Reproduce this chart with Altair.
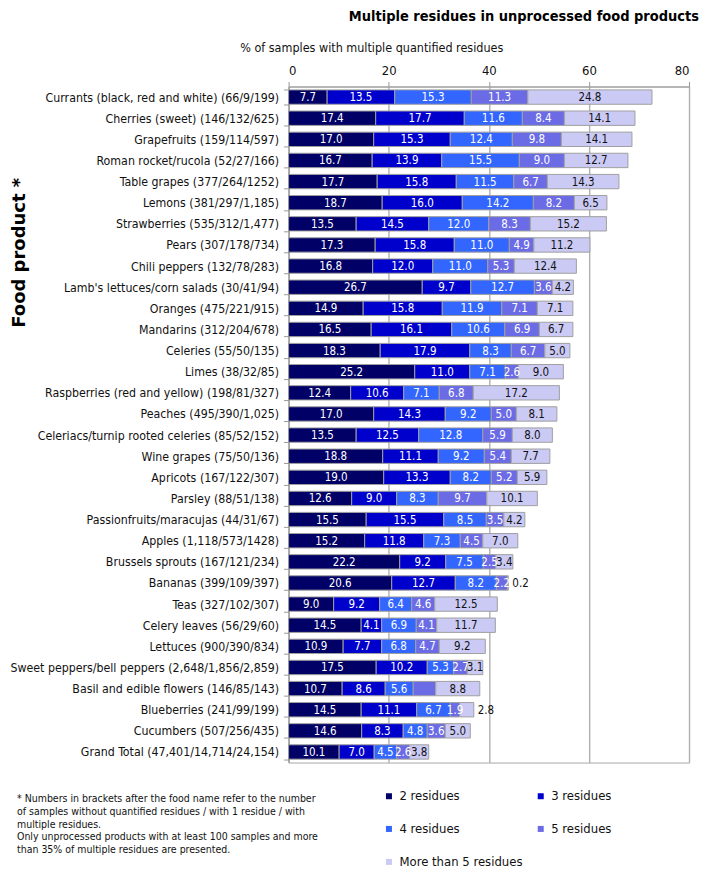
import altair as alt
import pandas as pd

foods = [
    "Currants (black, red and white) (66/9/199)",
    "Cherries (sweet) (146/132/625)",
    "Grapefruits (159/114/597)",
    "Roman rocket/rucola (52/27/166)",
    "Table grapes (377/264/1252)",
    "Lemons (381/297/1,185)",
    "Strawberries (535/312/1,477)",
    "Pears (307/178/734)",
    "Chili peppers (132/78/283)",
    "Lamb's lettuces/corn salads (30/41/94)",
    "Oranges (475/221/915)",
    "Mandarins (312/204/678)",
    "Celeries (55/50/135)",
    "Limes (38/32/85)",
    "Raspberries (red and yellow) (198/81/327)",
    "Peaches (495/390/1,025)",
    "Celeriacs/turnip rooted celeries (85/52/152)",
    "Wine grapes (75/50/136)",
    "Apricots (167/122/307)",
    "Parsley (88/51/138)",
    "Passionfruits/maracujas (44/31/67)",
    "Apples (1,118/573/1428)",
    "Brussels sprouts (167/121/234)",
    "Bananas (399/109/397)",
    "Teas (327/102/307)",
    "Celery leaves (56/29/60)",
    "Lettuces (900/390/834)",
    "Sweet peppers/bell peppers (2,648/1,856/2,859)",
    "Basil and edible flowers (146/85/143)",
    "Blueberries (241/99/199)",
    "Cucumbers (507/256/435)",
    "Grand Total (47,401/14,714/24,154)",
]

series = ["2 residues", "3 residues", "4 residues", "5 residues", "More than 5 residues"]
colors = ["#000066", "#0000CC", "#3366FF", "#6B6BE6", "#CACAF5"]

res2 = [7.7, 17.4, 17.0, 16.7, 17.7, 18.7, 13.5, 17.3, 16.8, 26.7, 14.9, 16.5, 18.3, 25.2, 12.4, 17.0,
        13.5, 18.8, 19.0, 12.6, 15.5, 15.2, 22.2, 20.6, 9.0, 14.5, 10.9, 17.5, 10.7, 14.5, 14.6, 10.1]
res3 = [13.5, 17.7, 15.3, 13.9, 15.8, 16.0, 14.5, 15.8, 12.0, 9.7, 15.8, 16.1, 17.9, 11.0, 10.6, 14.3,
        12.5, 11.1, 13.3, 9.0, 15.5, 11.8, 9.2, 12.7, 9.2, 4.1, 7.7, 10.2, 8.6, 11.1, 8.3, 7.0]
res4 = [15.3, 11.6, 12.4, 15.5, 11.5, 14.2, 12.0, 11.0, 11.0, 12.7, 11.9, 10.6, 8.3, 7.1, 7.1, 9.2,
        12.8, 9.2, 8.2, 8.3, 8.5, 7.3, 7.5, 8.2, 6.4, 6.9, 6.8, 5.3, 5.6, 6.7, 4.8, 4.5]
res5 = [11.3, 8.4, 9.8, 9.0, 6.7, 8.2, 8.3, 4.9, 5.3, 3.6, 7.1, 6.9, 6.7, 2.6, 6.8, 5.0,
        5.9, 5.4, 5.2, 9.7, 3.5, 4.5, 2.5, 2.2, 4.6, 4.1, 4.7, 2.7, 4.5, 1.9, 3.6, 2.6]
res6 = [24.8, 14.1, 14.1, 12.7, 14.3, 6.5, 15.2, 11.2, 12.4, 4.2, 7.1, 6.7, 5.0, 9.0, 17.2, 8.1,
        8.0, 7.7, 5.9, 10.1, 4.2, 7.0, 3.4, 0.2, 12.5, 11.7, 9.2, 3.1, 8.8, 2.8, 5.0, 3.8]

# segments whose value label is not shown in the original
unlabelled = [("Basil and edible flowers (146/85/143)", "5 residues")]

x_ticks = [0, 20, 40, 60, 80]

title_text = "Multiple residues in unprocessed food products"
x_title = "% of samples with multiple quantified residues"
y_title = "Food product *"
footnote_lines = [
    "* Numbers in brackets after the food name refer to the number",
    "of samples without quantified residues / with 1 residue / with",
    "multiple residues.",
    "Only unprocessed products  with at least 100 samples and more",
    "than 35% of multiple residues are presented.",
]

FONT = "DejaVu Sans Condensed"

rows = []
all_vals = [res2, res3, res4, res5, res6]
for i, food in enumerate(foods):
    start = 0.0
    for k, s in enumerate(series):
        v = all_vals[k][i]
        end = start + v
        last = k == len(series) - 1
        outside = last and v < 3
        rows.append({
            "food": food,
            "series": s,
            "order": k,
            "value": v,
            "start": start,
            "end": end,
            "label_x": end if outside else (start + end) / 2,
            "label": "" if (food, s) in unlabelled else f"{v:.1f}",
            "outside": outside,
            "tcolor": "#111111" if last else "#ffffff",
        })
        start = end
df = pd.DataFrame(rows)

PLOT_W = 401
PLOT_H = 677

x_scale = alt.Scale(domain=[0, 80], nice=False)
y_enc = alt.Y(
    "food:N",
    sort=foods,
    scale=alt.Scale(paddingInner=0.32, paddingOuter=0.16),
    axis=alt.Axis(
        title=y_title,
        titleFont="DejaVu Sans",
        titleFontSize=18,
        titleFontWeight="bold",
        titleColor="#000000",
        titleAngle=270,
        titleX=-269,
        titleY=166,
        titleAlign="center",
        titleBaseline="middle",
        labelFont=FONT,
        labelFontSize=12.3,
        labelColor="#111111",
        labelLimit=400,
        labelPadding=5,
        tickBand="extent",
        tickSize=5,
        tickColor="#999999",
        domainColor="#999999",
        grid=False,
    ),
)

x_axis = alt.Axis(
    orient="top",
    values=x_ticks,
    title=x_title,
    titleFont=FONT,
    titleFontSize=12.5,
    titleFontWeight="normal",
    titleColor="#111111",
    titleAnchor="start",
    titleAlign="left",
    titleBaseline="middle",
    titleX=-49,
    titleY=-39,
    labelFont=FONT,
    labelFontSize=13,
    labelColor="#111111",
    labelPadding=4,
    tickSize=5,
    tickColor="#999999",
    domainColor="#999999",
    grid=True,
    gridColor="#b0b0b0",
    gridWidth=1.4,
)

base = alt.Chart(df)

bars = base.mark_bar(stroke="#a0a0a0", strokeWidth=1).encode(
    x=alt.X("start:Q", scale=x_scale, axis=x_axis),
    x2="end:Q",
    y=y_enc,
    color=alt.Color(
        "series:N",
        scale=alt.Scale(domain=series, range=colors),
        legend=alt.Legend(
            title=None,
            orient="none",
            direction="horizontal",
            legendX=94,
            legendY=704,
            columns=2,
            columnPadding=11,
            rowPadding=19,
            symbolType="square",
            symbolSize=36,
            symbolStrokeWidth=0,
            labelFont=FONT,
            labelFontSize=13,
            labelColor="#111111",
            labelOffset=4,
            labelLimit=300,
        ),
    ),
    order=alt.Order("order:Q"),
)

labels_in = base.transform_filter("!datum.outside").mark_text(
    font=FONT, fontSize=11.5, align="center", baseline="middle", dy=1
).encode(
    x=alt.X("label_x:Q", scale=x_scale),
    y=alt.Y("food:N", sort=foods),
    text="label:N",
    color=alt.Color("tcolor:N", scale=None),
)

labels_out = base.transform_filter("datum.outside").mark_text(
    font=FONT, fontSize=11.5, align="left", baseline="middle", dx=4, dy=1
).encode(
    x=alt.X("label_x:Q", scale=x_scale),
    y=alt.Y("food:N", sort=foods),
    text="label:N",
    color=alt.Color("tcolor:N", scale=None),
)

footnote = alt.Chart(pd.DataFrame({"k": [0]})).mark_text(
    font=FONT, fontSize=10.5, align="left", baseline="top", lineHeight=12.6, color="#111111"
).encode(
    x=alt.value(-272),
    y=alt.value(709),
    text=alt.value(footnote_lines),
)

chart = alt.layer(bars, labels_in, labels_out, footnote).properties(
    width=PLOT_W,
    height=PLOT_H,
    autosize=alt.AutoSizeParams(type="none"),
    padding={"left": 281, "top": 78, "right": 12, "bottom": 106},
    title=alt.TitleParams(
        title_text,
        anchor="end",
        frame="group",
        font=FONT,
        fontSize=14.5,
        fontWeight="bold",
        color="#000000",
        offset=17,
        dx=10,
    ),
).configure_view(
    stroke="#a8a8a8", strokeWidth=1
)

chart.save("out.html", embed_options={"renderer": "svg", "actions": False})
